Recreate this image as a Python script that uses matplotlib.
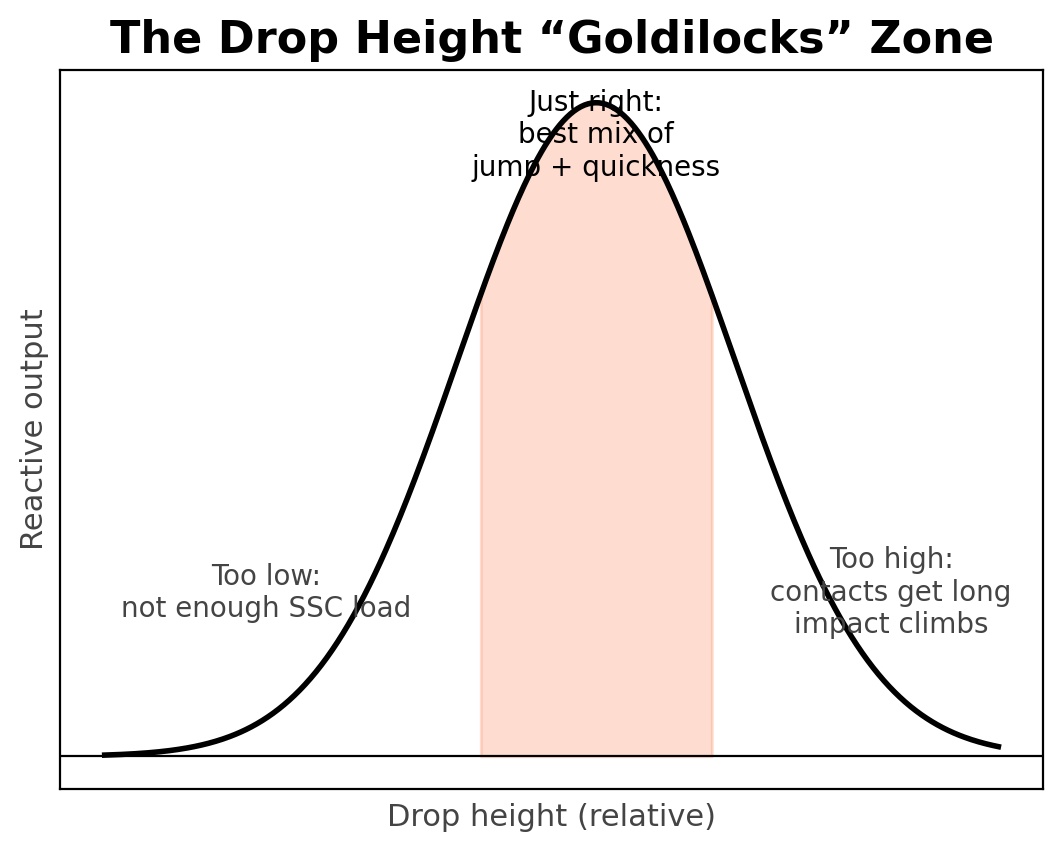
import numpy as np
import matplotlib
matplotlib.use("Agg")
import matplotlib.pyplot as plt

# ---- data ----
x_range = [0.0, 10.0]          # drop height span (relative units)
peak_x = 5.5                   # drop height giving the best reactive output
spread = 1.55                  # width of the response curve
zone = [4.2, 6.8]              # "just right" band
labels = {
    "low": "Too low:\nnot enough SSC load",
    "mid": "Just right:\nbest mix of\njump + quickness",
    "high": "Too high:\ncontacts get long\nimpact climbs",
}
label_pos = {"low": (1.81, 0.25), "mid": (5.5, 0.95), "high": (8.8, 0.25)}

x = np.linspace(x_range[0], x_range[1], 500)
y = np.exp(-0.5 * ((x - peak_x) / spread) ** 2)

fig = plt.figure(figsize=(5.32, 4.25), dpi=200)
ax = fig.add_axes([0.0564, 0.0718, 0.9239, 0.8458])

mask = (x >= zone[0]) & (x <= zone[1])
ax.fill_between(x[mask], 0, y[mask], color="#fc8d62", alpha=0.3, linewidth=1)
ax.plot(x, y, color="black", linewidth=2.0)
ax.axhline(0, color="black", linewidth=0.8)

gray = "#444444"
ax.text(*label_pos["low"], labels["low"], ha="center", va="center", fontsize=10, color=gray)
ax.text(*label_pos["mid"], labels["mid"], ha="center", va="center", fontsize=10, color="black")
ax.text(*label_pos["high"], labels["high"], ha="center", va="center", fontsize=10, color=gray)

ax.set_xticks([])
ax.set_yticks([])
ax.set_xlabel("Drop height (relative)", fontsize=11, color=gray, labelpad=5)
ax.set_ylabel("Reactive output", fontsize=11, color=gray)
ax.set_title("The Drop Height \u201cGoldilocks\u201d Zone", fontsize=16, fontweight="bold")
for s in ax.spines.values():
    s.set_linewidth(0.8)

fig.savefig("out.png", dpi=200)
